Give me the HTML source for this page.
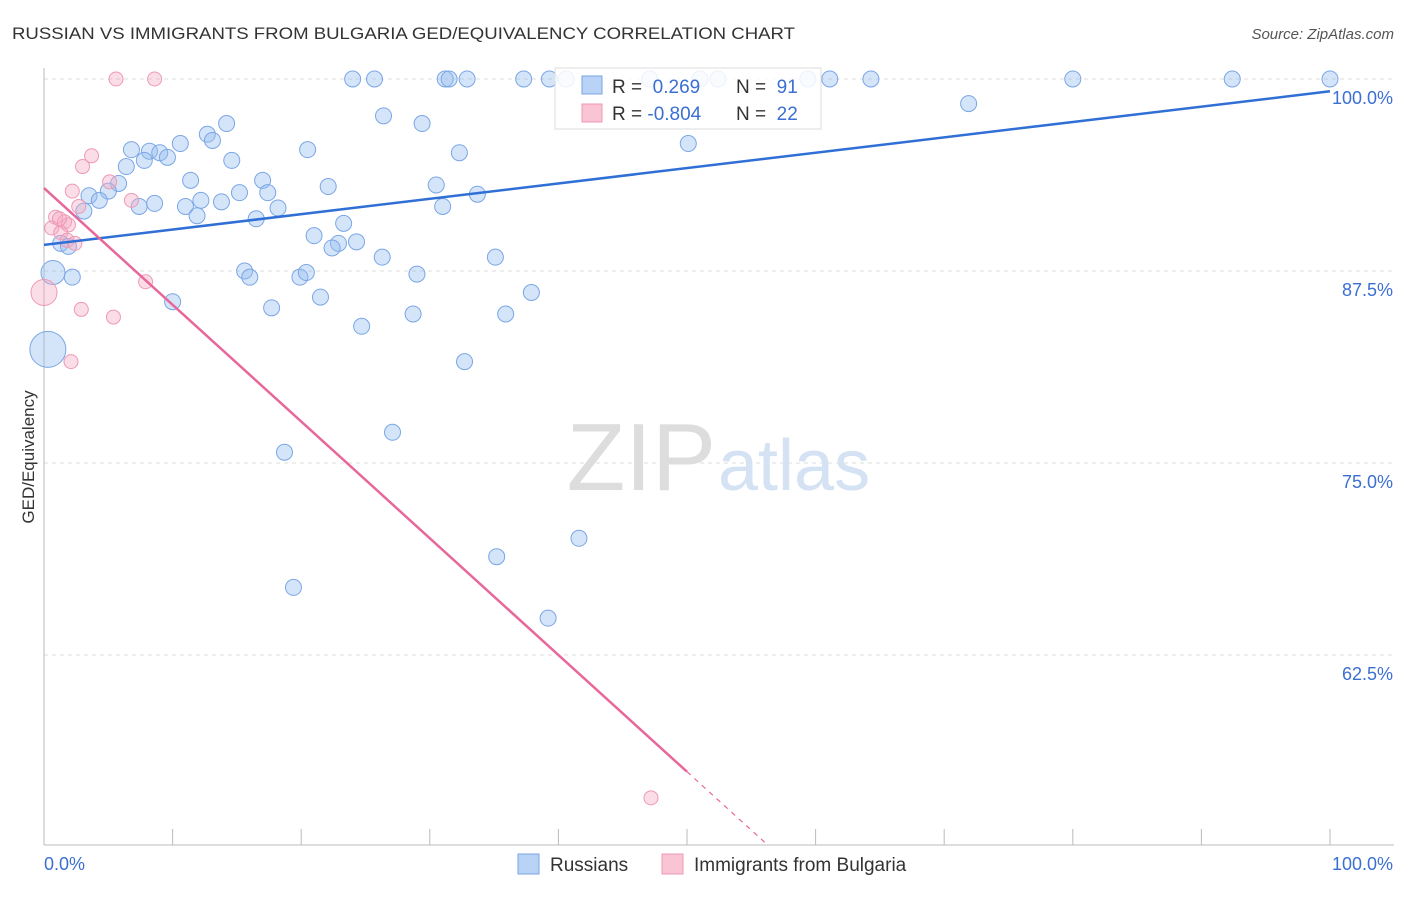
<!DOCTYPE html>
<html><head><meta charset="utf-8"><style>
body{margin:0;background:#fff;font-family:"Liberation Sans",sans-serif;}
svg text{font-family:"Liberation Sans",sans-serif;}
</style></head><body>
<svg id="chart" width="1406" height="892">
<text x="12" y="39" font-size="17" fill="#333" textLength="783" lengthAdjust="spacingAndGlyphs">RUSSIAN VS IMMIGRANTS FROM BULGARIA GED/EQUIVALENCY CORRELATION CHART</text>
<text x="1394" y="39" font-size="15" fill="#555" text-anchor="end" font-style="italic">Source: ZipAtlas.com</text>
<text x="34" y="457" font-size="17" fill="#333" transform="rotate(-90 34 457)" text-anchor="middle">GED/Equivalency</text>
<g id="grid"></g>
<text x="716" y="490" font-size="96" fill="#ddd" text-anchor="end" font-family="Liberation Serif">ZIP</text>
<text x="718" y="490" font-size="72" fill="#d4e2f4">atlas</text>
<g id="marks"></g>
<g id="legend">
<rect x="555" y="68" width="266" height="61" fill="#fff" fill-opacity="0.85" stroke="#ddd"/>
<rect x="582" y="76" width="20" height="18" fill="#b8d3f5" stroke="#7aa6e6"/>
<rect x="582" y="104" width="20" height="18" fill="#f9c4d4" stroke="#ee99b4"/>
<text x="612" y="93" font-size="19" fill="#333">R = <tspan fill="#3b6fd1">&#160;0.269</tspan><tspan x="736">N = </tspan><tspan fill="#3b6fd1">&#160;91</tspan></text>
<text x="612" y="120" font-size="19" fill="#333">R = <tspan fill="#3b6fd1">-0.804</tspan><tspan x="736">N = </tspan><tspan fill="#3b6fd1">&#160;22</tspan></text>
</g>
<g>
<rect x="518" y="854" width="21" height="20" fill="#b8d3f5" stroke="#7aa6e6"/>
<text x="550" y="871" font-size="19" fill="#333">Russians</text>
<rect x="662" y="854" width="21" height="20" fill="#f9c4d4" stroke="#ee99b4"/>
<text x="694" y="871" font-size="19" fill="#333">Immigrants from Bulgaria</text>
</g>
</svg>
<script>
const blueX=[24.0,25.7,31.2,31.5,32.9,37.3,39.3,40.6,47.1,51.0,52.4,59.4,61.1,64.3,80.0,92.4,100,71.9,26.4,29.4,14.2,12.7,13.1,10.6,50.1,6.8,8.2,9.0,9.6,20.5,32.3,14.6,7.8,6.4,11.4,17.0,5.8,22.1,30.5,5.0,3.5,15.2,17.4,33.7,4.3,8.6,11.0,12.2,13.8,7.4,18.2,31.0,3.1,11.9,16.5,23.3,21.0,1.3,1.9,24.3,22.9,22.4,26.3,35.1,0.7,2.2,15.6,16.0,19.9,20.4,29.0,37.9,21.5,10.0,17.7,35.9,28.7,24.7,0.3,32.7,27.1,18.7,35.2,41.6,19.4,39.2];
const blueY=[100,100,100,100,100,100,100,100,100,100,100,100,100,100,100,100,100,98.4,97.6,97.1,97.1,96.4,96.0,95.8,95.8,95.4,95.3,95.2,94.9,95.4,95.2,94.7,94.7,94.3,93.4,93.4,93.2,93.0,93.1,92.7,92.4,92.6,92.6,92.5,92.1,91.9,91.7,92.1,92.0,91.7,91.6,91.7,91.4,91.1,90.9,90.6,89.8,89.3,89.1,89.4,89.3,89.0,88.4,88.4,87.4,87.1,87.5,87.1,87.1,87.4,87.3,86.1,85.8,85.5,85.1,84.7,84.7,83.9,82.4,81.6,77.0,75.7,68.9,70.1,66.9,64.9];
const blueBig={64:12,78:18};
const pinkX=[5.6,8.6,3.7,3.0,2.2,5.1,6.8,2.7,0.9,1.6,1.9,0.6,1.3,1.8,2.4,7.9,0,2.9,5.4,2.1,47.2,1.2];
const pinkY=[100,100,95.0,94.3,92.7,93.3,92.1,91.7,91.0,90.7,90.5,90.3,90.0,89.5,89.3,86.8,86.1,85.0,84.5,81.6,53.2,90.9];
const pinkBig={16:13};
const blueTrend=[89.2,99.2];
const pinkTrend=[92.9,-0.76];
const yTicks=[100,87.5,75,62.5];
const yTickLabels=["100.0%","87.5%","75.0%","62.5%"];
const xTicks=[0,10,20,30,40,50,60,70,80,90,100];
const NS="http://www.w3.org/2000/svg";
const X=v=>44+v*12.86;
const Y=v=>79+(100-v)*15.36;
function mk(tag,attrs,parent){const e=document.createElementNS(NS,tag);for(const k in attrs)e.setAttribute(k,attrs[k]);parent.appendChild(e);return e;}
const grid=document.getElementById('grid'),marks=document.getElementById('marks'),svg=document.getElementById('chart');
yTicks.forEach((t,i)=>{
 const l=mk('line',{x1:44,x2:1394,y1:Y(t),y2:Y(t),stroke:'#ddd','stroke-dasharray':'4,4'},grid);
 
 
 const tx=mk('text',{x:1393,y:Y(t)+25,'font-size':18,fill:'#3b6fd1','text-anchor':'end'},grid);
 tx.textContent=yTickLabels[i];
 
 
});
const ax=mk('line',{x1:44,x2:1394,y1:845,y2:845,stroke:'#bbb'},grid);


const ay=mk('line',{x1:44,x2:44,y1:68,y2:845,stroke:'#bbb'},grid);


xTicks.forEach(t=>{
 const l=mk('line',{x1:X(t),x2:X(t),y1:829,y2:845,stroke:'#bbb'},grid);
 
 
});
[["0.0%",44,'start'],["100.0%",1393,'end']].forEach(a=>{
 const tx=mk('text',{x:a[1],y:870,'font-size':18,fill:'#3b6fd1','text-anchor':a[2]},grid);
 tx.textContent=a[0];
 
 
});
blueX.forEach((v,i)=>{
 const c=mk('circle',{cx:X(v),cy:Y(blueY[i]),r:blueBig[i]||8,fill:'rgba(150,190,240,0.4)',stroke:'#7aa6e6','stroke-width':1},marks);
 
 
});
pinkX.forEach((v,i)=>{
 const c=mk('circle',{cx:X(v),cy:Y(pinkY[i]),r:pinkBig[i]||7,fill:'rgba(245,170,195,0.4)',stroke:'#ee99b4','stroke-width':1},marks);
 
 
});
const bl=mk('line',{x1:X(0),y1:Y(blueTrend[0]),x2:X(100),y2:Y(blueTrend[1]),stroke:'#2f6fd6','stroke-width':2.5},marks);


const pEnd=50, yMin=100-(845-79)/15.36, pDash=(pinkTrend[0]-yMin)/(-pinkTrend[1]);
const pl=mk('line',{x1:X(0),y1:Y(pinkTrend[0]),x2:X(pEnd),y2:Y(pinkTrend[0]+pinkTrend[1]*pEnd),stroke:'#e8679a','stroke-width':2.5},marks);


const pd=mk('line',{x1:X(pEnd),y1:Y(pinkTrend[0]+pinkTrend[1]*pEnd),x2:X(pDash),y2:Y(pinkTrend[0]+pinkTrend[1]*pDash),stroke:'#e8679a','stroke-width':1.2,'stroke-dasharray':'5,5'},marks);


svg.appendChild(document.getElementById('legend'));
</script>
</body></html>
